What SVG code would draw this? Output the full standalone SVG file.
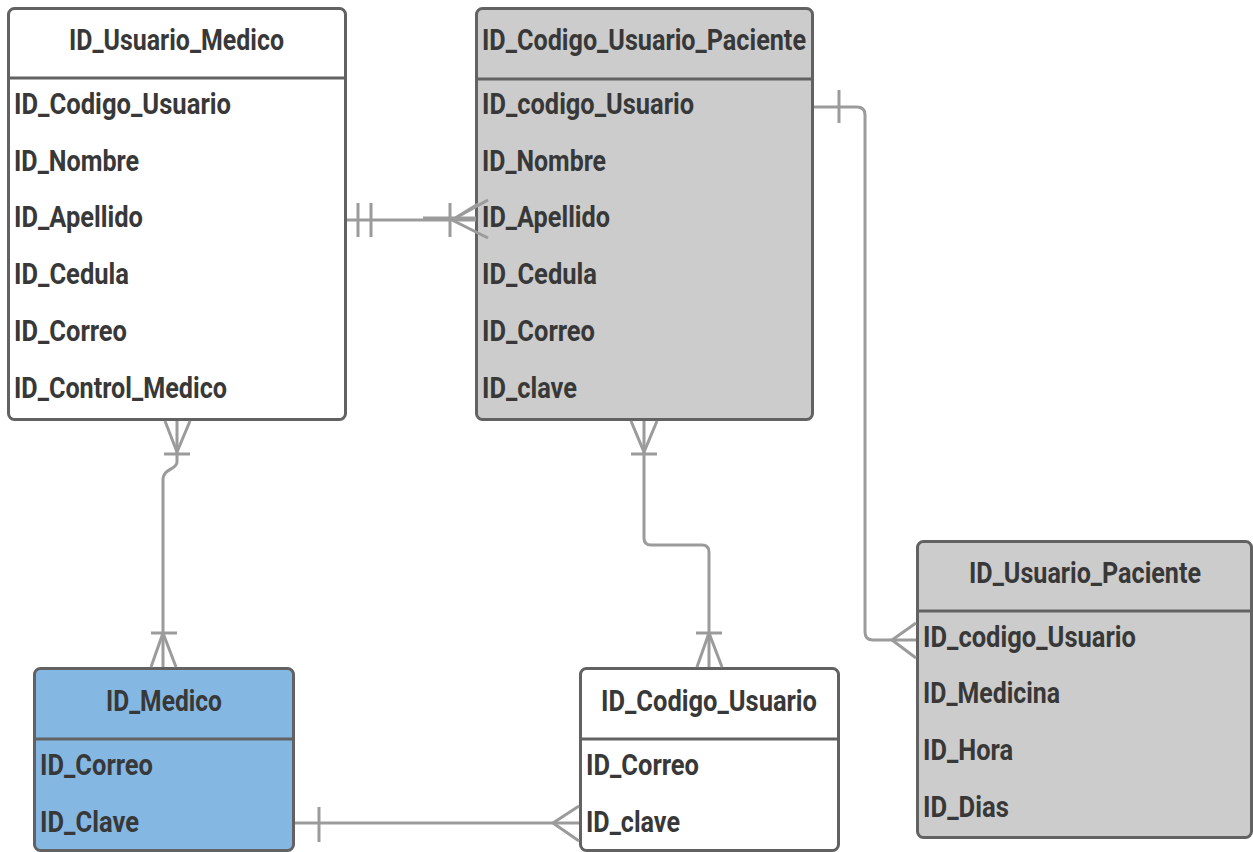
<svg xmlns="http://www.w3.org/2000/svg" width="1253" height="852" viewBox="0 0 1253 852">
<style>
.tbl{stroke:#626262;stroke-width:3}
.w{fill:#ffffff}
.g{fill:#cccccc}
.b{fill:#84b8e3}
.sep{stroke:#626262;stroke-width:3}
text{font-family:Roboto,"Liberation Sans",sans-serif;font-size:29px;font-weight:bold;fill:#383838}
.c{stroke:#9b9b9b;stroke-width:3;fill:none}
</style>
<rect width="1253" height="852" fill="#ffffff"/>
<g id="ID_Usuario_Medico">
  <rect class="tbl w" x="8.5" y="8.5" width="337" height="411" rx="6"/>
  <line class="sep" x1="8.5" y1="78" x2="345.5" y2="78"/>
  <text x="69" y="50" textLength="215" lengthAdjust="spacingAndGlyphs">ID_Usuario_Medico</text>
  <text x="14" y="114" textLength="217" lengthAdjust="spacingAndGlyphs">ID_Codigo_Usuario</text>
  <text x="14" y="171" textLength="125" lengthAdjust="spacingAndGlyphs">ID_Nombre</text>
  <text x="14" y="227" textLength="129" lengthAdjust="spacingAndGlyphs">ID_Apellido</text>
  <text x="14" y="284" textLength="115" lengthAdjust="spacingAndGlyphs">ID_Cedula</text>
  <text x="14" y="341" textLength="113" lengthAdjust="spacingAndGlyphs">ID_Correo</text>
  <text x="14" y="398" textLength="213" lengthAdjust="spacingAndGlyphs">ID_Control_Medico</text>
</g>
<g id="ID_Codigo_Usuario_Paciente">
  <rect class="tbl g" x="476.5" y="8.5" width="336" height="411" rx="6"/>
  <line class="sep" x1="476.5" y1="79" x2="812.5" y2="79"/>
  <text x="482" y="50" textLength="324" lengthAdjust="spacingAndGlyphs">ID_Codigo_Usuario_Paciente</text>
  <text x="482" y="114" textLength="212" lengthAdjust="spacingAndGlyphs">ID_codigo_Usuario</text>
  <text x="482" y="171" textLength="124" lengthAdjust="spacingAndGlyphs">ID_Nombre</text>
  <text x="482" y="227" textLength="128" lengthAdjust="spacingAndGlyphs">ID_Apellido</text>
  <text x="482" y="284" textLength="115" lengthAdjust="spacingAndGlyphs">ID_Cedula</text>
  <text x="482" y="341" textLength="113" lengthAdjust="spacingAndGlyphs">ID_Correo</text>
  <text x="482" y="398" textLength="95" lengthAdjust="spacingAndGlyphs">ID_clave</text>
</g>
<g id="ID_Usuario_Paciente">
  <rect class="tbl g" x="917.5" y="541.5" width="334" height="296" rx="6"/>
  <line class="sep" x1="917.5" y1="611" x2="1251.5" y2="611"/>
  <text x="969" y="583" textLength="232" lengthAdjust="spacingAndGlyphs">ID_Usuario_Paciente</text>
  <text x="923" y="647" textLength="213" lengthAdjust="spacingAndGlyphs">ID_codigo_Usuario</text>
  <text x="923" y="703" textLength="137" lengthAdjust="spacingAndGlyphs">ID_Medicina</text>
  <text x="923" y="760" textLength="90" lengthAdjust="spacingAndGlyphs">ID_Hora</text>
  <text x="923" y="817" textLength="86" lengthAdjust="spacingAndGlyphs">ID_Dias</text>
</g>
<g id="ID_Medico">
  <rect class="tbl b" x="34.5" y="668.5" width="259" height="182" rx="6"/>
  <line class="sep" x1="34.5" y1="739" x2="293.5" y2="739"/>
  <text x="106" y="711" textLength="116" lengthAdjust="spacingAndGlyphs">ID_Medico</text>
  <text x="40" y="775" textLength="113" lengthAdjust="spacingAndGlyphs">ID_Correo</text>
  <text x="40" y="832" textLength="99" lengthAdjust="spacingAndGlyphs">ID_Clave</text>
</g>
<g id="ID_Codigo_Usuario">
  <rect class="tbl w" x="580.5" y="668.5" width="258" height="182" rx="6"/>
  <line class="sep" x1="580.5" y1="739" x2="838.5" y2="739"/>
  <text x="601" y="711" textLength="216" lengthAdjust="spacingAndGlyphs">ID_Codigo_Usuario</text>
  <text x="586" y="775" textLength="113" lengthAdjust="spacingAndGlyphs">ID_Correo</text>
  <text x="586" y="832" textLength="94" lengthAdjust="spacingAndGlyphs">ID_clave</text>
</g>
<g id="connectors">
  <path class="c" d="M347,220 H476"/>
  <path class="c" d="M423,218 H476" stroke-width="4"/>
  <path class="c" d="M358,203 V237 M371,203 V237 M450,203 V237"/>
  <path class="c" d="M452,220 L488,200 M452,220 L478,204 M452,220 L488,238"/>
  <path class="c" d="M177,421 V462 C177,470 163,468 163,480 V667"/>
  <path class="c" d="M165,421 L177,452 L190,421 M164,454 H190"/>
  <path class="c" d="M151,633 H177 M163,633 L151,667 M163,633 L176,667"/>
  <path class="c" d="M644,421 V538 Q644,545 651,545 H702 Q709,545 709,552 V667"/>
  <path class="c" d="M631,421 L644,452 L657,421 M631,454 H657"/>
  <path class="c" d="M696,633 H722 M709,633 L697,667 M709,633 L722,667"/>
  <path class="c" d="M814,107 H857 Q865,107 865,115 V632 Q865,640 873,640 H916"/>
  <path class="c" d="M839,90 V123"/>
  <path class="c" d="M892,640 L916,623 M892,640 L916,658"/>
  <path class="c" d="M295,823 H579"/>
  <path class="c" d="M319,807 V842"/>
  <path class="c" d="M553,823 L579,806 M553,823 L579,841"/>
</g>
</svg>
